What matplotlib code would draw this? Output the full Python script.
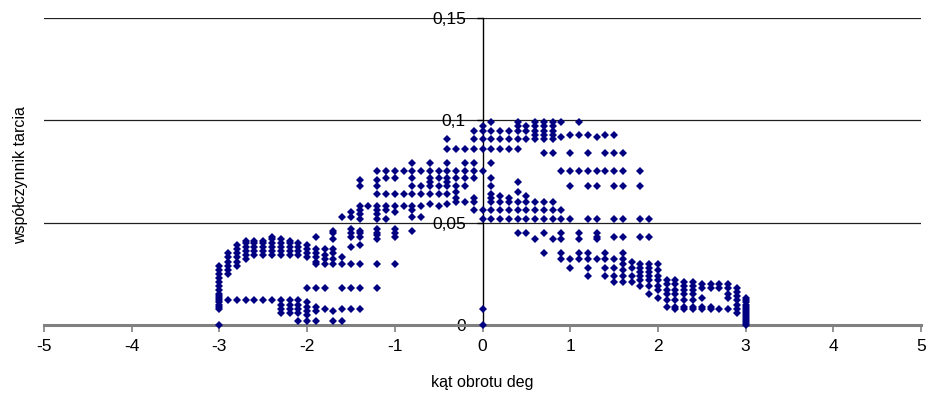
import matplotlib
matplotlib.use('Agg')
import matplotlib.pyplot as plt
import numpy as np

# angle columns (deg) and friction coefficient values read per column
kat_deg = [-3.0, -2.9, -2.8, -2.7, -2.6, -2.5, -2.4, -2.3, -2.2, -2.1,
           -2.0, -1.9, -1.8, -1.7, -1.6, -1.5, -1.4, -1.3, -1.2, -1.1,
           -1.0, -0.9, -0.8, -0.7, -0.6, -0.5, -0.4, -0.3, -0.2, -0.1,
           0.0, 0.1, 0.2, 0.3, 0.4, 0.5, 0.6, 0.7, 0.8, 0.9,
           1.0, 1.1, 1.2, 1.3, 1.4, 1.5, 1.6, 1.7, 1.8, 1.9,
           2.0, 2.1, 2.2, 2.3, 2.4, 2.5, 2.6, 2.7, 2.8, 2.9, 3.0]

wsp_tarcia = [
    [0.0, .008, .009, .010, .011, .012, .013, .014, .015, .017, .019, .021, .023, .025, .027, .029],
    [.012, .025, .027, .029, .031, .033, .035],
    [.012, .029, .031, .033, .035, .037, .039],
    [.012, .032, .034, .036, .038, .040, .041],
    [.012, .034, .036, .038, .040, .041],
    [.012, .034, .036, .038, .040, .041],
    [.012, .034, .036, .038, .040, .042, .043],
    [.006, .008, .010, .012, .034, .036, .038, .040, .042],
    [.006, .008, .010, .012, .034, .036, .038, .040, .041],
    [.002, .006, .008, .010, .012, .034, .036, .038, .040],
    [.002, .005, .007, .009, .011, .018, .033, .035, .037, .039],
    [.002, .007, .009, .018, .030, .031, .033, .035, .037, .043],
    [.008, .018, .030, .032, .034, .037],
    [.002, .007, .030, .032, .035, .037, .042, .045, .046],
    [.002, .008, .018, .030, .033, .053],
    [.008, .018, .030, .038, .043, .045, .047, .053, .055],
    [.008, .018, .030, .039, .043, .045, .046, .052, .054, .056, .058, .068, .071],
    [.058],
    [.018, .030, .042, .044, .045, .047, .052, .054, .056, .058, .064, .068, .071, .075],
    [.052, .056, .058, .064, .072, .075],
    [.030, .043, .045, .047, .055, .058, .064, .072, .075],
    [.058, .064, .075],
    [.046, .053, .056, .058, .064, .068, .072, .075, .079],
    [.053, .058, .064, .068, .075],
    [.059, .064, .068, .070, .072, .075, .079],
    [.058, .064, .068, .072, .075],
    [.059, .064, .068, .070, .072, .075, .079, .086, .091],
    [.060, .062, .065, .068, .072, .075, .086],
    [.060, .068, .072, .075, .079, .086],
    [.056, .060, .062, .072, .075, .079, .086, .091, .095],
    [0.0, .008, .052, .056, .075, .086, .091, .095, .097],
    [.052, .056, .060, .062, .064, .068, .072, .079, .086, .091, .095, .099],
    [.052, .056, .060, .063, .086, .091, .095],
    [.052, .056, .060, .062, .086, .091, .095],
    [.045, .052, .056, .060, .065, .070, .086, .091, .095, .097, .099],
    [.045, .052, .056, .060, .063, .091, .095, .097],
    [.042, .052, .056, .060, .091, .093, .095, .097, .099],
    [.035, .045, .052, .056, .060, .084, .091, .093, .095, .097, .099],
    [.042, .052, .056, .060, .084, .091, .093, .095, .097, .099],
    [.032, .035, .042, .045, .052, .056, .075, .092, .099],
    [.028, .032, .052, .068, .075, .084, .093],
    [.032, .035, .042, .045, .075, .093, .099],
    [.024, .028, .032, .035, .052, .068, .075, .084, .093],
    [.032, .042, .043, .045, .052, .068, .075, .092],
    [.024, .028, .032, .035, .075, .084, .093],
    [.021, .024, .028, .032, .043, .052, .068, .075, .084, .093],
    [.021, .024, .027, .030, .032, .035, .043, .052, .068, .075, .084],
    [.021, .024, .028, .031],
    [.019, .022, .024, .026, .028, .030, .043, .052, .068, .075],
    [.015, .019, .022, .024, .026, .028, .030, .043, .052],
    [.013, .017, .019, .022, .024, .027, .030],
    [.009, .012, .015, .017, .020, .022],
    [.008, .009, .012, .015, .017, .020, .022],
    [.008, .009, .012, .015, .017, .019, .021],
    [.008, .009, .012, .015, .017, .019, .021],
    [.008, .009, .013, .018, .020],
    [.008, .009, .018, .020],
    [.008, .018, .020],
    [.008, .013, .015, .018, .020],
    [.006, .008, .010, .012, .014, .016, .018],
    [0.0, .001, .002, .003, .004, .005, .006, .007, .008, .009, .010, .011, .012, .013],
]

x_ticks = [-5, -4, -3, -2, -1, 0, 1, 2, 3, 4, 5]
y_ticks = [0, 0.05, 0.1, 0.15]
y_tick_labels = ['0', '0,05', '0,1', '0,15']

plt.rcParams['font.family'] = ['Liberation Sans', 'DejaVu Sans']

x_pts = np.repeat(kat_deg, [len(c) for c in wsp_tarcia])
y_pts = np.concatenate([np.array(c, dtype=float) for c in wsp_tarcia])

fig = plt.figure(figsize=(9.28, 3.99), dpi=100)
ax = fig.add_axes([0.0474, 0.1855, 0.9451, 0.7694])

ax.set_xlim(-5, 5)
ax.set_ylim(0, 0.15)

for g in [0.05, 0.1, 0.15]:
    ax.axhline(g, color='#202020', lw=0.9, zorder=1)

ax.plot(x_pts, y_pts, linestyle='none', marker='D', markersize=3.8,
        color='#000080', markeredgewidth=0, clip_on=False, zorder=4)

ax.spines['top'].set_visible(False)
ax.spines['right'].set_visible(False)
ax.spines['left'].set_position(('data', 0))
ax.spines['left'].set_color('black')
ax.spines['left'].set_linewidth(1.0)
ax.spines['left'].set_zorder(2)
ax.spines['bottom'].set_color('#808080')
ax.spines['bottom'].set_linewidth(2.2)
ax.spines['bottom'].set_zorder(2)

ax.set_xticks(x_ticks)
ax.set_xticklabels([str(t) for t in x_ticks])
ax.set_yticks(y_ticks)
ax.set_yticklabels(y_tick_labels)
ax.tick_params(axis='x', direction='out', length=5, width=1.2, color='#808080',
               labelsize=12.5, pad=5)
ax.tick_params(axis='y', direction='out', length=4, width=1.0, color='black',
               labelsize=12.5, pad=8)

ax.set_xlabel('kąt obrotu deg', fontsize=11.5, labelpad=15)
fig.text(0.022, 0.56, 'współczynnik tarcia', rotation=90, fontsize=11.5,
         ha='center', va='center')

fig.savefig('out.png', dpi=100)
